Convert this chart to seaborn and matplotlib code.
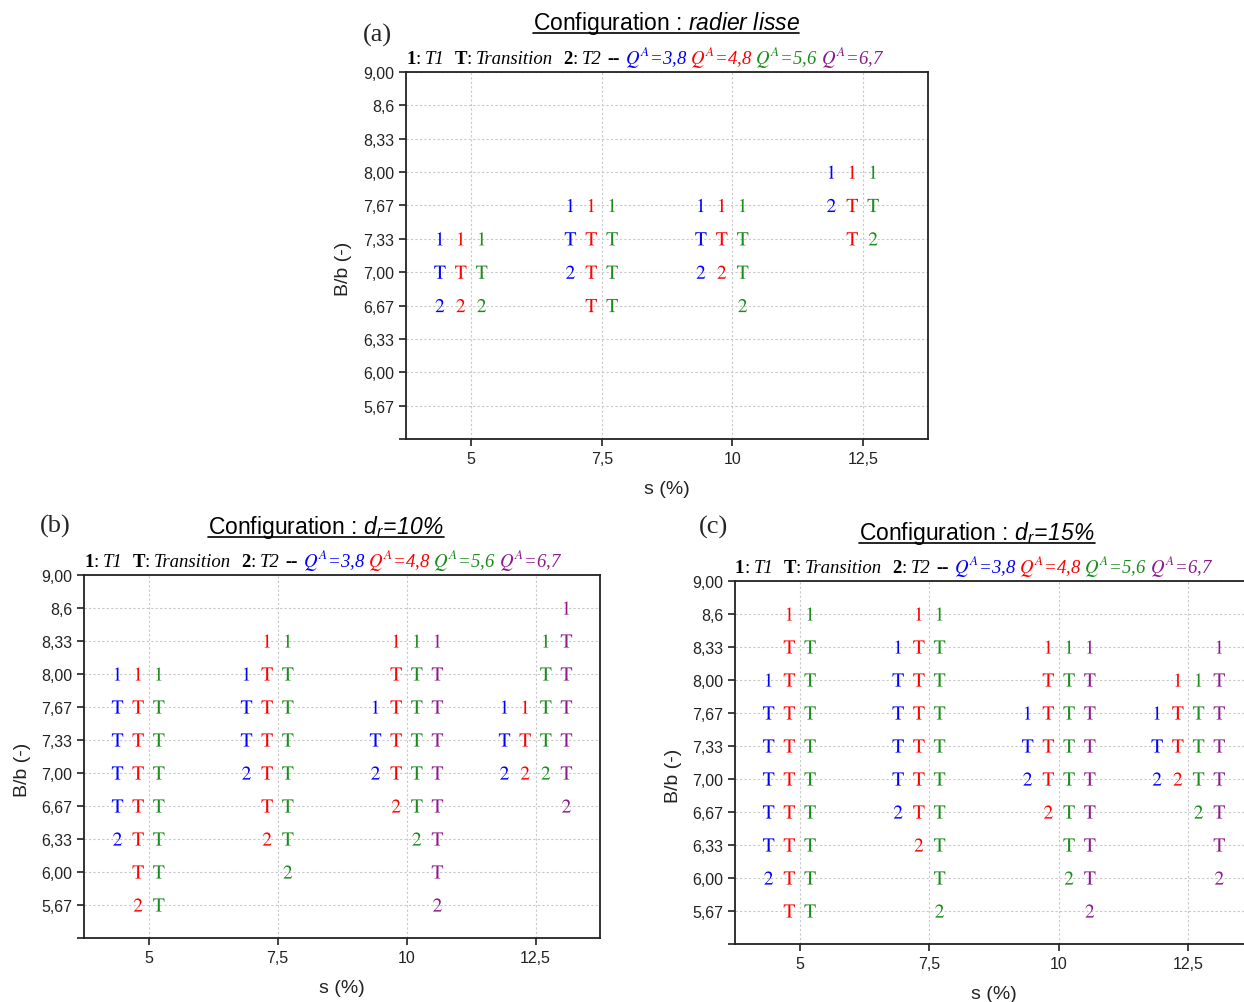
import pandas as pd
import matplotlib
matplotlib.use("Agg")
import matplotlib.pyplot as plt
import seaborn as sns
from matplotlib.offsetbox import TextArea, HPacker, DrawingArea, AnchoredOffsetbox
from matplotlib.lines import Line2D

# --- data ---
# B/b levels, top to bottom (categorical axis)
bb_levels = ["9,00", "8,6", "8,33", "8,00", "7,67", "7,33", "7,00", "6,67", "6,33", "6,00", "5,67"]
s_values = [5, 7.5, 10, 12.5]
s_labels = ["5", "7,5", "10", "12,5"]
qa_labels = ["3,8", "4,8", "5,6", "6,7"]
qa_colors = ["#0000ff", "#ff0000", "#1a8c1a", "#8b1a8b"]

# one string per s value, one char per B/b level ('.' = nothing)
# 1 = T1, T = transition, 2 = T2
# (a) radier lisse
a_q38 = [".....1T2...", "....1T2....", "....1T2....", "...12......"]
a_q48 = [".....1T2...", "....1TTT...", "....1T2....", "...1TT....."]
a_q56 = [".....1T2...", "....1TTT...", "....1TT2...", "...1T2....."]
a_q67 = ["...........", "...........", "...........", "..........."]
# (b) dr = 10%
b_q38 = ["...1TTTT2..", "...1TT2....", "....1T2....", "....1T2...."]
b_q48 = ["...1TTTTTT2", "..1TTTTT2..", "..1TTTT2...", "....1T2...."]
b_q56 = ["...1TTTTTTT", "..1TTTTTT2.", "..1TTTTT2..", "..1TTT2...."]
b_q67 = ["...........", "...........", "..1TTTTTTT2", ".1TTTTT2..."]
# (c) dr = 15%
c_q38 = ["...1TTTTT2.", "..1TTTT2...", "....1T2....", "....1T2...."]
c_q48 = [".1TTTTTTTTT", ".1TTTTTT2..", "..1TTTT2...", "...1TT2...."]
c_q56 = [".1TTTTTTTTT", ".1TTTTTTTT2", "..1TTTTTT2.", "...1TTT2..."]
c_q67 = ["...........", "...........", "..1TTTTTTT2", "..1TTTTTT2."]


def make_df(columns):
    rows = []
    for qa, cols in zip(qa_labels, columns):
        for s, col in zip(s_values, cols):
            for lev, code in enumerate(col):
                if code != ".":
                    rows.append({"s": s, "QA": qa, "level": lev, "code": code})
    df = pd.DataFrame(rows)
    # spread the four Q^A series side by side around each s value
    dodge = dict(zip(qa_labels, [-0.6, -0.2, 0.2, 0.6]))
    df["x"] = df["s"] + df["QA"].map(dodge)
    return df


sns.set_style("ticks")
plt.rcParams["font.family"] = ["Liberation Sans", "DejaVu Sans"]
plt.rcParams["mathtext.fontset"] = "stix"
plt.rcParams["mathtext.rm"] = "Liberation Sans"
plt.rcParams["mathtext.it"] = "Liberation Sans:italic"
plt.rcParams["mathtext.sf"] = "Liberation Sans:italic"  # used for the italic title parts
plt.rcParams["mathtext.bf"] = "Liberation Sans:bold"

W, H = 1244, 1003
fig = plt.figure(figsize=(W / 100, H / 100), dpi=100)

panels = [
    ([a_q38, a_q48, a_q56, a_q67], [406, 73, 522, 367]),
    ([b_q38, b_q48, b_q56, b_q67], [84, 576, 516, 363]),
    ([c_q38, c_q48, c_q56, c_q67], [735, 582, 518, 363]),
]

markers = {"1": r"$1$", "T": r"$\mathrm{T}$", "2": r"$2$"}
palette = dict(zip(qa_labels, qa_colors))
serif = "Liberation Serif"


def legend_box(fs):
    def ta(s, weight="normal", style="normal", color="black"):
        return TextArea(s, textprops=dict(fontfamily=serif, fontsize=fs, fontweight=weight,
                                          fontstyle=style, color=color, math_fontfamily="stix"))

    def gap(w):
        return DrawingArea(w, 1)

    parts = [ta("1", "bold"), ta(":"), gap(3), ta("T1", style="italic"), gap(7),
             ta("T", "bold"), ta(":"), gap(3), ta("Transition", style="italic"), gap(7),
             ta("2", "bold"), ta(":"), gap(3), ta("T2", style="italic"), gap(4),
             ta("--", "bold"), gap(4)]
    for lab, col in zip(qa_labels, qa_colors):
        parts += [ta(f"$Q^{{A}}$={lab}", style="italic", color=col), gap(2)]
    return HPacker(children=parts, sep=0, pad=0, align="baseline")


for i, (columns, (left, top, width, height)) in enumerate(panels):
    ax = fig.add_axes([left / W, 1 - (top + height) / H, width / W, height / H])
    df = make_df(columns)
    sns.scatterplot(data=df, x="x", y="level", hue="QA", hue_order=qa_labels, palette=palette,
                    style="code", style_order=["1", "T", "2"], markers=markers,
                    s=90, linewidth=0, edgecolor="none", legend=False, ax=ax, zorder=3)
    ax.set_xlim(3.75, 13.75)
    ax.set_ylim(11, 0)
    ax.set_xticks(s_values, s_labels)
    ax.set_yticks(range(12), bb_levels + [""])
    ax.grid(True, color="#c8c8c8", linestyle=(0, (2, 2)), linewidth=0.8)
    ax.set_axisbelow(True)
    for sp in ax.spines.values():
        sp.set_linewidth(1.3)
        sp.set_color("#222222")
    if i == 2:
        # panel (c) runs off the right edge of the page
        ax.spines["right"].set_visible(False)
    ax.tick_params(length=5, width=1.3, color="#333333", labelsize=11.5, labelcolor="#222222")
    ax.set_xlabel("s (%)", fontsize=14, labelpad=10, color="#222222")
    ax.set_ylabel("B/b (-)", fontsize=14, color="#222222")
    ax.yaxis.set_label_coords(-0.103, 0.465)

    box = AnchoredOffsetbox(loc="lower left", child=legend_box(13.5), pad=0, borderpad=0,
                            frameon=False, bbox_to_anchor=(0, 1.008),
                            bbox_transform=ax.transAxes)
    fig.add_artist(box)

# titles and panel letters
titles = [
    ("Configuration : $\\mathsf{radier\\ lisse}$", 666, 30),
    ("Configuration : $\\mathsf{d_r\\!=\\!10\\%}$", 326, 534),
    ("Configuration : $\\mathsf{d_r\\!=\\!15\\%}$", 977, 540),
]
title_texts = []
for txt, x, y in titles:
    t = fig.text(x / W, 1 - y / H, txt, ha="center", va="baseline", fontsize=16.5,
                 math_fontfamily="custom", color="black")
    title_texts.append((t, y))

for lab, x, y in [("(a)", 377, 35), ("(b)", 55, 526), ("(c)", 714, 527)]:
    fig.text(x / W, 1 - y / H, lab, ha="center", va="center", fontsize=19, fontfamily=serif)

# underline the titles
fig.canvas.draw()
renderer = fig.canvas.get_renderer()
for t, y in title_texts:
    bb = t.get_window_extent(renderer)
    yy = 1 - (y + 4) / H
    fig.add_artist(Line2D([bb.x0 / W, bb.x1 / W], [yy, yy], transform=fig.transFigure,
                          color="black", linewidth=1.2))

fig.savefig("out.png", dpi=100)
